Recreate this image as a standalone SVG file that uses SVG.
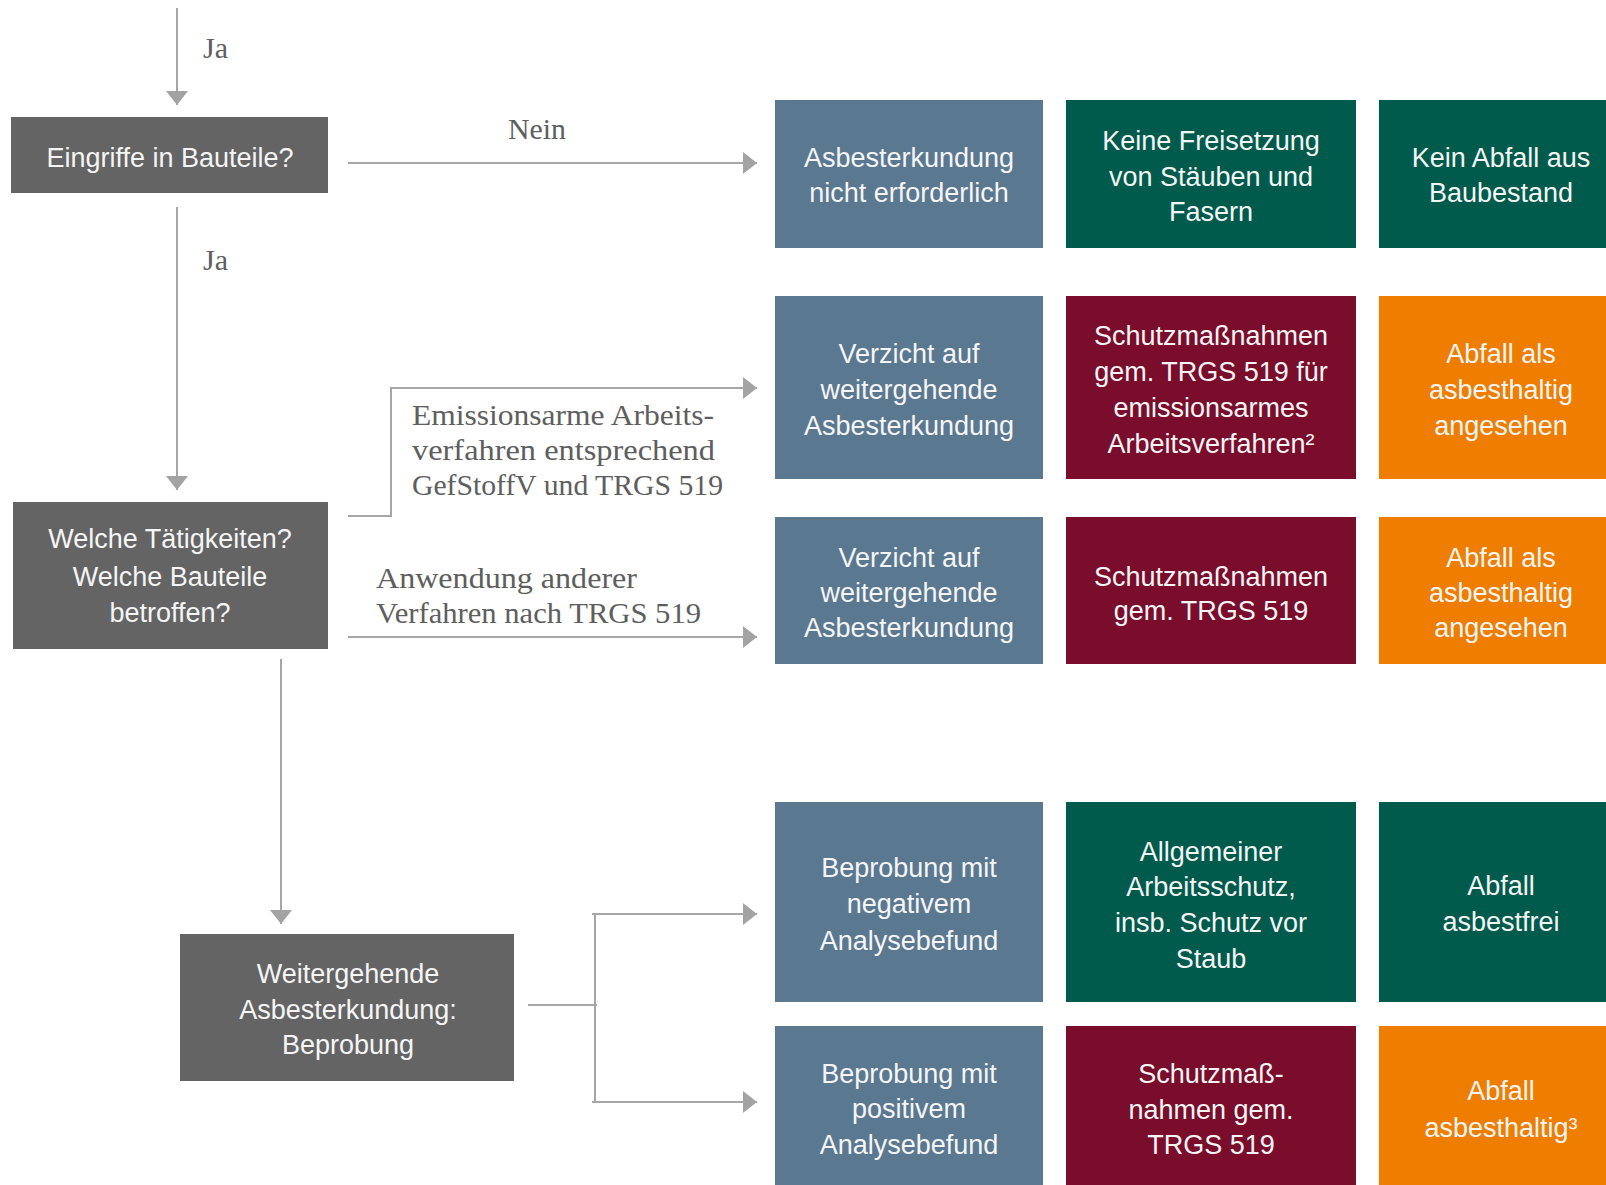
<svg xmlns="http://www.w3.org/2000/svg" width="1606" height="1185" viewBox="0 0 1606 1185">
<defs>
<marker id="ah" markerUnits="userSpaceOnUse" markerWidth="16" markerHeight="24" refX="14" refY="11" orient="auto">
<path d="M0,0 L14,11 L0,22 z" fill="#a3a3a3"/>
</marker>
<style>
.q{fill:#646464}
.b{fill:#5b7891}
.g{fill:#005b4c}
.r{fill:#790d2b}
.o{fill:#ee7d00}
.t{font-family:"Liberation Sans",Arial,sans-serif;font-size:27px;fill:#f5f5f5;text-anchor:middle}
.l{font-family:"Liberation Serif","Times New Roman",serif;font-size:30px;fill:#5e5e5e}
.c{fill:none;stroke:#a6a6a6;stroke-width:2}
</style>
</defs>
<rect width="1606" height="1185" fill="#ffffff"/>

<g id="connectors">
<path class="c" d="M177,8 V105" marker-end="url(#ah)"/>
<path class="c" d="M348,163 H757" marker-end="url(#ah)"/>
<path class="c" d="M177,207 V490" marker-end="url(#ah)"/>
<path class="c" d="M348,516 H391 V388 H757" marker-end="url(#ah)"/>
<path class="c" d="M348,637 H757" marker-end="url(#ah)"/>
<path class="c" d="M281,659 V924" marker-end="url(#ah)"/>
<path class="c" d="M528,1005 H597"/>
<path class="c" d="M595,913 V1103"/>
<path class="c" d="M592,914 H757" marker-end="url(#ah)"/>
<path class="c" d="M592,1102 H757" marker-end="url(#ah)"/>
<text class="l" x="203" y="58">Ja</text>
<text class="l" x="508" y="139" textLength="58" lengthAdjust="spacingAndGlyphs">Nein</text>
<text class="l" x="203" y="270">Ja</text>
<text class="l" x="412" y="425" textLength="302" lengthAdjust="spacingAndGlyphs">Emissionsarme Arbeits-</text>
<text class="l" x="412" y="460" textLength="303" lengthAdjust="spacingAndGlyphs">verfahren entsprechend</text>
<text class="l" x="412" y="495" textLength="311" lengthAdjust="spacingAndGlyphs">GefStoffV und TRGS 519</text>
<text class="l" x="376" y="588" textLength="261" lengthAdjust="spacingAndGlyphs">Anwendung anderer</text>
<text class="l" x="376" y="623" textLength="325" lengthAdjust="spacingAndGlyphs">Verfahren nach TRGS 519</text>
</g>

<g id="n-eingriffe">
<rect class="q" x="11" y="117" width="317" height="76"/>
<text class="t" x="170" y="167">Eingriffe in Bauteile?</text>
</g>
<g id="n-welche">
<rect class="q" x="13" y="502" width="315" height="147"/>
<text class="t" x="170" y="548">Welche Tätigkeiten?</text>
<text class="t" x="170" y="586">Welche Bauteile</text>
<text class="t" x="170" y="622">betroffen?</text>
</g>
<g id="n-beprobung">
<rect class="q" x="180" y="934" width="334" height="147"/>
<text class="t" x="348" y="983">Weitergehende</text>
<text class="t" x="348" y="1019">Asbesterkundung:</text>
<text class="t" x="348" y="1054">Beprobung</text>
</g>

<g id="r1c1"><rect class="b" x="775" y="100" width="268" height="148"/>
<text class="t" x="909" y="167">Asbesterkundung</text><text class="t" x="909" y="202">nicht erforderlich</text></g>
<g id="r1c2"><rect class="g" x="1066" y="100" width="290" height="148"/>
<text class="t" x="1211" y="150">Keine Freisetzung</text><text class="t" x="1211" y="186">von Stäuben und</text><text class="t" x="1211" y="221">Fasern</text></g>
<g id="r1c3"><rect class="g" x="1379" y="100" width="260" height="148"/>
<text class="t" x="1501" y="167">Kein Abfall aus</text><text class="t" x="1501" y="202">Baubestand</text></g>

<g id="r2c1"><rect class="b" x="775" y="296" width="268" height="183"/>
<text class="t" x="909" y="363">Verzicht auf</text><text class="t" x="909" y="399">weitergehende</text><text class="t" x="909" y="435">Asbesterkundung</text></g>
<g id="r2c2"><rect class="r" x="1066" y="296" width="290" height="183"/>
<text class="t" x="1211" y="345">Schutzmaßnahmen</text><text class="t" x="1211" y="381">gem. TRGS 519 für</text><text class="t" x="1211" y="417">emissionsarmes</text><text class="t" x="1211" y="453">Arbeitsverfahren²</text></g>
<g id="r2c3"><rect class="o" x="1379" y="296" width="260" height="183"/>
<text class="t" x="1501" y="363">Abfall als</text><text class="t" x="1501" y="399">asbesthaltig</text><text class="t" x="1501" y="435">angesehen</text></g>

<g id="r3c1"><rect class="b" x="775" y="517" width="268" height="147"/>
<text class="t" x="909" y="567">Verzicht auf</text><text class="t" x="909" y="602">weitergehende</text><text class="t" x="909" y="637">Asbesterkundung</text></g>
<g id="r3c2"><rect class="r" x="1066" y="517" width="290" height="147"/>
<text class="t" x="1211" y="586">Schutzmaßnahmen</text><text class="t" x="1211" y="620">gem. TRGS 519</text></g>
<g id="r3c3"><rect class="o" x="1379" y="517" width="260" height="147"/>
<text class="t" x="1501" y="567">Abfall als</text><text class="t" x="1501" y="602">asbesthaltig</text><text class="t" x="1501" y="637">angesehen</text></g>

<g id="r4c1"><rect class="b" x="775" y="802" width="268" height="200"/>
<text class="t" x="909" y="877">Beprobung mit</text><text class="t" x="909" y="913">negativem</text><text class="t" x="909" y="950">Analysebefund</text></g>
<g id="r4c2"><rect class="g" x="1066" y="802" width="290" height="200"/>
<text class="t" x="1211" y="861">Allgemeiner</text><text class="t" x="1211" y="896">Arbeitsschutz,</text><text class="t" x="1211" y="932">insb. Schutz vor</text><text class="t" x="1211" y="968">Staub</text></g>
<g id="r4c3"><rect class="g" x="1379" y="802" width="260" height="200"/>
<text class="t" x="1501" y="895">Abfall</text><text class="t" x="1501" y="931">asbestfrei</text></g>

<g id="r5c1"><rect class="b" x="775" y="1026" width="268" height="170"/>
<text class="t" x="909" y="1083">Beprobung mit</text><text class="t" x="909" y="1118">positivem</text><text class="t" x="909" y="1154">Analysebefund</text></g>
<g id="r5c2"><rect class="r" x="1066" y="1026" width="290" height="170"/>
<text class="t" x="1211" y="1083">Schutzmaß-</text><text class="t" x="1211" y="1119">nahmen gem.</text><text class="t" x="1211" y="1154">TRGS 519</text></g>
<g id="r5c3"><rect class="o" x="1379" y="1026" width="260" height="170"/>
<text class="t" x="1501" y="1100">Abfall</text><text class="t" x="1501" y="1137">asbesthaltig³</text></g>
</svg>
